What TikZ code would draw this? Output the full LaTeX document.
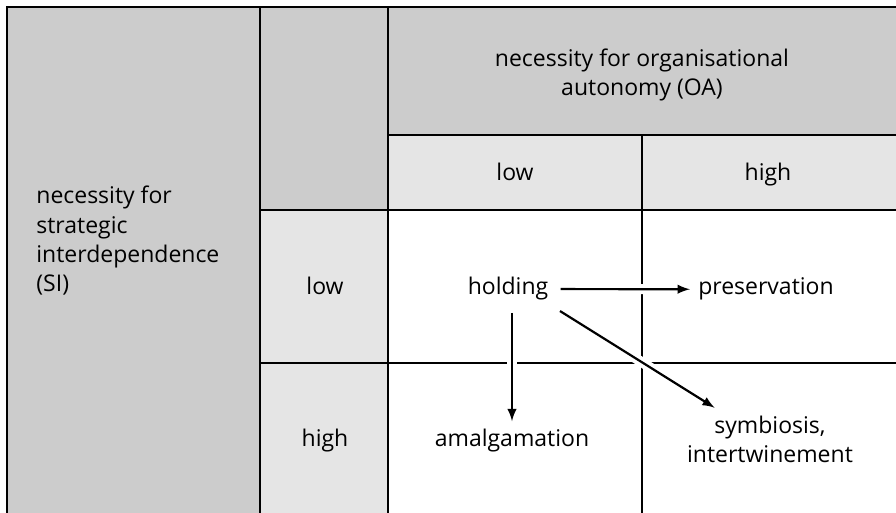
\documentclass[tikz,border=0pt]{standalone}
\usepackage{fontspec}
\setmainfont{Open Sans}
\definecolor{darkcell}{HTML}{CCCCCC}
\definecolor{lightcell}{HTML}{E5E5E5}
\tikzset{
  grid line/.style={line width=1.2pt, draw=black},
  label text/.style={font=\fontsize{11.5}{14.7}\selectfont, inner sep=4pt, anchor=base},
  move/.style={-latex, line width=1.1pt, draw=black, shorten <=2pt,
    preaction={draw=white, line width=5pt, arrows=-}},
}
\begin{document}
\begin{tikzpicture}[x=0.5pt, y=-0.5pt]
\useasboundingbox (0,0) rectangle (896,513);
% cells
\fill[darkcell] (7,7) rectangle (260,513);
\fill[darkcell] (260,7) rectangle (388,210);
\fill[darkcell] (388,7) rectangle (896,135);
\fill[lightcell] (388,135) rectangle (896,210);
\fill[lightcell] (260,210) rectangle (388,513);
% grid
\draw[grid line] (7,513) -- (7,7) -- (896,7);
\draw[grid line] (260,7) -- (260,513);
\draw[grid line] (388,7) -- (388,513);
\draw[grid line] (642,135) -- (642,513);
\draw[grid line] (388,135) -- (896,135);
\draw[grid line] (260,210) -- (896,210);
\draw[grid line] (260,363) -- (896,363);
% headers (placed on the baseline of the last line)
\node[label text, align=center] (OA) at (642,96) {necessity for organisational\\autonomy (OA)};
\node[label text] (OAlow) at (515,181) {low};
\node[label text] (OAhigh) at (768,181) {high};
\node[label text, align=left, anchor=base west] (SI) at (28,292) {necessity for\\strategic\\interdependence\\(SI)};
\node[label text] (SIlow) at (325,295) {low};
\node[label text] (SIhigh) at (325,447) {high};
% types
\node[label text] (holding) at (508,295) {holding};
\node[label text] (preservation) at (766,295) {preservation};
\node[label text] (amalgamation) at (512,447) {amalgamation};
\node[label text, align=center] (symbiosis) at (770,463) {symbiosis,\\intertwinement};
\draw[move] (holding) -- (preservation);
\draw[move] (holding.south -| amalgamation) -- (amalgamation);
\draw[move] (holding.south east) -- (symbiosis.150);
\end{tikzpicture}
\end{document}
